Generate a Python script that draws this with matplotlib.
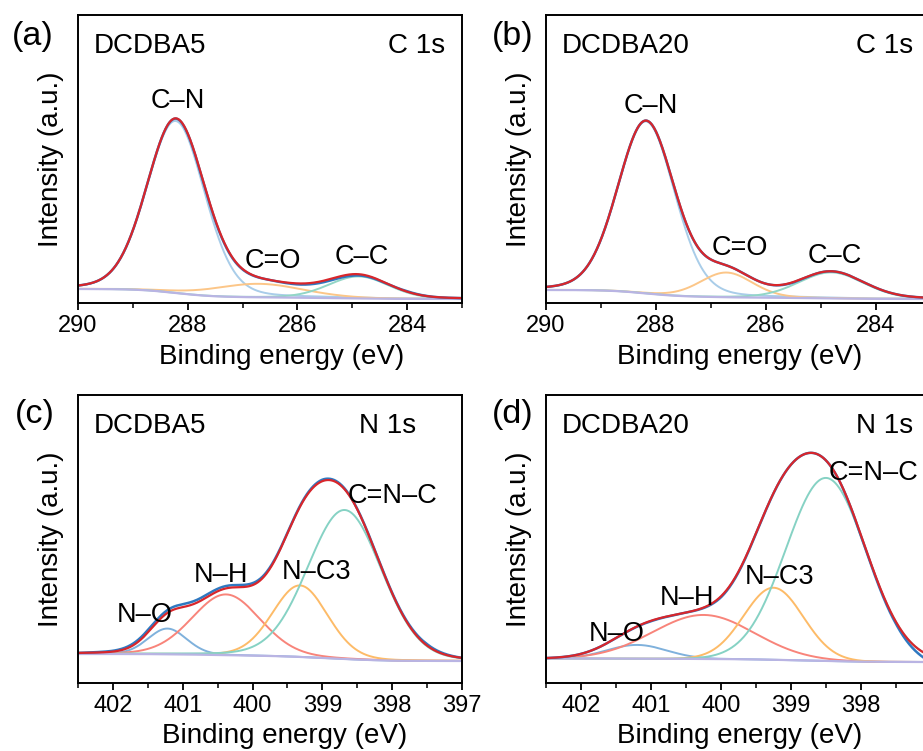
import numpy as np
import matplotlib
matplotlib.use('Agg')
import matplotlib.pyplot as plt
from matplotlib.ticker import MultipleLocator, FixedLocator

plt.rcParams['font.family'] = ['Liberation Sans', 'DejaVu Sans']

# ---------------- data (intensity in arbitrary units) ----------------
# C 1s components: centre (eV), height above background, FWHM (eV)
c_labels = ['C–N', 'C=O', 'C–C']
a_centers = [288.22, 286.70, 284.88]
a_heights = [172.0, 13.5, 22.0]
a_fwhm = [1.24, 1.90, 1.30]
a_bg = [14.0, 4.0]          # background level at high / low binding energy
b_centers = [288.18, 286.72, 284.81]
b_heights = [172.0, 24.7, 26.0]
b_fwhm = [1.22, 1.12, 1.40]
b_bg = [13.0, 4.0]

# N 1s components
n_labels = ['N–O', 'N–H', 'N–C3', 'C=N–C']
c_centers = [401.22, 400.38, 399.32, 398.68]
c_heights = [25.7, 60.7, 71.5, 149.0]
c_fwhm_ = [0.65, 1.15, 0.93, 1.25]
c_bg = [29.0, 22.0]
d_centers = [401.20, 400.25, 399.25, 398.50]
d_heights = [13.7, 44.0, 72.0, 183.0]
d_fwhm = [1.00, 1.70, 1.00, 1.35]
d_bg = [24.5, 21.0]

# measured spectrum minus fitted envelope, read at 0.5 eV steps
c1s_energy = [290.0, 289.5, 289.0, 288.5, 288.0, 287.5, 287.0, 286.5,
              286.0, 285.5, 285.0, 284.5, 284.0, 283.5, 283.0]
a_resid = [0, 0, 0, 0, -0.5, -1.0, -0.5, 0, -1.0, -1.5, -1.5, -0.5, 0.5, 0, 0]
b_resid = [0, 0, 0, 0, 0, -0.5, 0, 0, 0, -0.5, 0, 0, 0, 0, 0]
n1s_energy = [402.5, 402.0, 401.5, 401.0, 400.5, 400.0, 399.5, 399.0,
              398.5, 398.0, 397.5, 397.0]
c_resid = [0, 0.8, 2.5, 3.0, 2.5, 2.0, 0.5, 1.5, 0.5, 0.5, 1.5, 0]
d_resid = [0, 0, 0, -0.5, 0, -1.0, -0.5, 0, 0, -0.5, -2.0, -6.0]

c1s_ticks = [290, 288, 286, 284]
n1s_ticks_c = [402, 401, 400, 399, 398, 397]
n1s_ticks_d = [402, 401, 400, 399, 398]

# ---------------- styling ----------------
RAW = '#2f78c0'
FIT = '#d8262b'
BG = '#b9b4e3'
C_COLORS = ['#a9cde9', '#fcc688', '#92d6c6']
N_COLORS = ['#7fb1dc', '#f8847a', '#fdbb68', '#86d2c4']

W, H = 923, 751
fig = plt.figure(figsize=(W / 100, H / 100), dpi=100)


def pv(x, c, a, w, eta):
    g = np.exp(-4 * np.log(2) * ((x - c) / w) ** 2)
    l = 1.0 / (1.0 + 4 * ((x - c) / w) ** 2)
    return a * ((1 - eta) * g + eta * l)


def panel(px, xlim, ticks, minor, centers, heights, fwhms, colors, eta, bg,
          res_e, res_v, name, core, labels, lab_pos, letter, letter_xy,
          core_x, xlabel_xy):
    left, top, w, h = px
    ax = fig.add_axes([left / W, 1 - (top + h) / H, w / W, h / H])
    x = np.linspace(min(xlim), max(xlim), 900)
    comps = [pv(x, c, a, fw, eta) for c, a, fw in zip(centers, heights, fwhms)]
    s = np.sum(comps, axis=0)
    cum = np.concatenate([[0], np.cumsum((s[1:] + s[:-1]) / 2 * np.diff(x))])
    back = bg[1] + (bg[0] - bg[1]) * cum / cum[-1]
    env = back + s
    re = np.array(res_e)[::-1]
    rv = np.array(res_v)[::-1]
    raw = env + np.interp(x, re, rv)
    for comp, col in zip(comps, colors):
        ax.plot(x, back + comp, color=col, lw=1.4)
    ax.plot(x, back, color=BG, lw=1.6)
    ax.plot(x, raw, color=RAW, lw=1.8)
    ax.plot(x, env, color=FIT, lw=1.6)
    ax.set_xlim(*xlim)
    ax.set_ylim(0, 288)
    ax.set_yticks([])
    ax.xaxis.set_major_locator(FixedLocator(ticks))
    ax.xaxis.set_minor_locator(MultipleLocator(minor))
    ax.tick_params(axis='x', which='major', direction='out', length=5,
                   width=1.3, labelsize=17, pad=3.5)
    ax.tick_params(axis='x', which='minor', direction='out', length=3.5,
                   width=1.1)
    for sp in ax.spines.values():
        sp.set_linewidth(1.4)
    ax.text(0.04, 0.868, name, transform=ax.transAxes, fontsize=20,
            ha='left', va='baseline')
    ax.text(core_x, 0.868, core, transform=ax.transAxes, fontsize=20,
            ha='right', va='baseline')
    for lab, (lx, ly) in zip(labels, lab_pos):
        ax.text(lx, ly, lab, fontsize=19.5, ha='center', va='baseline')
    fig.text(letter_xy[0] / W, 1 - letter_xy[1] / H, letter, fontsize=24.5,
             ha='left', va='center')
    fig.text((left - 27) / W, 1 - (top + h / 2) / H, 'Intensity (a.u.)',
             fontsize=20, rotation=90, ha='center', va='center')
    fig.text(xlabel_xy[0] / W, 1 - xlabel_xy[1] / H, 'Binding energy (eV)',
             fontsize=20, ha='center', va='baseline')
    return ax


panel((78, 15, 384, 288), (290, 283), c1s_ticks, 1, a_centers, a_heights,
      a_fwhm, C_COLORS, 0.15, a_bg, c1s_energy, a_resid, 'DCDBA5', 'C 1s',
      c_labels, [(288.18, 194.7), (286.45, 34.7), (284.83, 39.0)], '(a)',
      (12, 37), 0.956, (282, 364))
panel((546, 15, 385, 288), (290, 283), c1s_ticks, 1, b_centers, b_heights,
      b_fwhm, C_COLORS, 0.15, b_bg, c1s_energy, b_resid, 'DCDBA20', 'C 1s',
      c_labels, [(288.09, 189.7), (286.48, 48.0), (284.75, 39.7)], '(b)',
      (492, 37), 0.954, (740, 364))
panel((78, 395, 384, 288), (402.5, 397), n1s_ticks_c, 0.5, c_centers,
      c_heights, c_fwhm_, N_COLORS, 0.1, c_bg, n1s_energy, c_resid, 'DCDBA5',
      'N 1s', n_labels, [(401.54, 61.3), (400.45, 101.3), (399.08, 104.0),
                         (398.0, 180.3)], '(c)', (15, 415), 0.88, (285, 743))
panel((546, 395, 385, 288), (402.5, 397), n1s_ticks_d, 0.5, d_centers,
      d_heights, d_fwhm, N_COLORS, 0.0, d_bg, n1s_energy, d_resid, 'DCDBA20',
      'N 1s', n_labels, [(401.49, 42.3), (400.49, 78.0), (399.17, 99.0),
                         (397.82, 203.0)], '(d)', (492, 415), 0.954, (740, 743))

fig.savefig('out.png', dpi=100)
